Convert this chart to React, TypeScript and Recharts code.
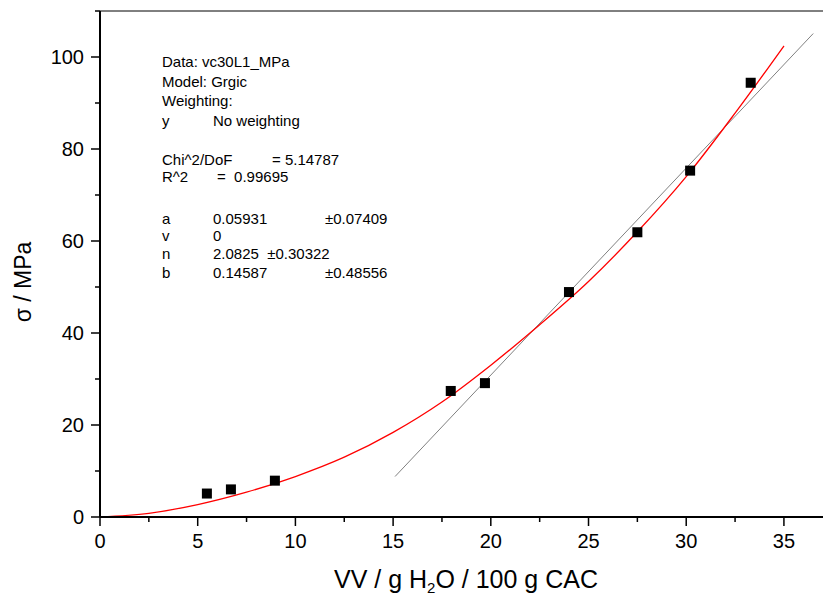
import { ComposedChart, Line, Scatter, XAxis, YAxis, ReferenceLine } from 'recharts';

// measured points
const vv = [5.47, 6.7, 8.95, 17.95, 19.7, 24.0, 27.5, 30.2, 33.3];
const sigma = [5.1, 6.0, 7.9, 27.4, 29.1, 48.9, 61.9, 75.3, 94.4];

// Grgic fit curve
const fitX = [0, 2.5, 5, 7.5, 10, 12.5, 15, 17.5, 20, 22.5, 25, 27.5, 30, 32.5, 35];
const fitY = [0, 0.8, 2.7, 5.4, 8.8, 13.0, 18.4, 25.0, 33.0, 41.8, 51.2, 62.0, 74.0, 87.8, 102.4];

// linear reference line
const linX = [15.1, 36.5];
const linY = [8.8, 105.1];

const xTicks = [0, 2.5, 5, 7.5, 10, 12.5, 15, 17.5, 20, 22.5, 25, 27.5, 30, 32.5, 35];
const yTicks = [0, 10, 20, 30, 40, 50, 60, 70, 80, 90, 100, 110];

const fitLines = [
  { text: 'Data: vc30L1_MPa', x: 162, y: 66.5 },
  { text: 'Model: Grgic', x: 162, y: 86.5 },
  { text: 'Weighting:', x: 162, y: 106 },
  { text: 'y', x: 162, y: 125.5 },
  { text: 'No weighting', x: 213, y: 125.5 },
  { text: 'Chi^2/DoF', x: 162, y: 164.5 },
  { text: '= 5.14787', x: 272, y: 164.5 },
  { text: 'R^2', x: 162, y: 181.5 },
  { text: '=  0.99695', x: 217, y: 181.5 },
  { text: 'a', x: 162, y: 223.5 },
  { text: '0.05931', x: 213, y: 223.5 },
  { text: '±0.07409', x: 325, y: 223.5 },
  { text: 'v', x: 162, y: 241 },
  { text: '0', x: 213, y: 241 },
  { text: 'n', x: 162, y: 259 },
  { text: '2.0825  ±0.30322', x: 213, y: 259 },
  { text: 'b', x: 162, y: 277.5 },
  { text: '0.14587', x: 213, y: 277.5 },
  { text: '±0.48556', x: 325, y: 277.5 },
];

const points = vv.map((x, i) => ({ x, y: sigma[i] }));
const fit = fitX.map((x, i) => ({ x, y: fitY[i] }));
const lin = linX.map((x, i) => ({ x, y: linY[i] }));

const FONT = '"Liberation Sans", Arial, sans-serif';

const XTick = ({ x, y, payload }: any) => {
  const major = payload.value % 5 === 0;
  return (
    <g>
      <line x1={x} x2={x} y1={y} y2={y + (major ? 9 : 5)} stroke="#000" strokeWidth={1.5} />
      {major && (
        <text x={x} y={y + 31} textAnchor="middle" fontSize={20} fontFamily={FONT} fill="#000">
          {payload.value}
        </text>
      )}
    </g>
  );
};

const YTick = ({ x, y, payload }: any) => {
  const major = payload.value % 20 === 0;
  return (
    <g>
      <line x1={x} x2={x - (major ? 9 : 5)} y1={y} y2={y} stroke="#000" strokeWidth={1.5} />
      {major && (
        <text x={x - 16} y={y + 7} textAnchor="end" fontSize={20} fontFamily={FONT} fill="#000">
          {payload.value}
        </text>
      )}
    </g>
  );
};

const Square = ({ cx, cy }: any) => <rect x={cx - 5} y={cy - 5} width={10} height={10} fill="#000" />;

export default function App() {
  return (
    <div style={{ position: 'absolute', left: 0, top: 0, width: 823, height: 596, background: '#fff' }}>
      <ComposedChart width={823} height={596} margin={{ top: 11, right: 0, left: 0, bottom: 0 }}>
        <XAxis
          type="number"
          dataKey="x"
          domain={[0, 37]}
          ticks={xTicks}
          interval={0}
          allowDataOverflow
          height={79}
          tickSize={0}
          tickMargin={0}
          tickLine={false}
          tick={<XTick />}
          axisLine={{ stroke: '#000', strokeWidth: 2 }}
        />
        <YAxis
          type="number"
          dataKey="y"
          domain={[0, 110]}
          ticks={yTicks}
          interval={0}
          allowDataOverflow
          width={100}
          tickSize={0}
          tickMargin={0}
          tickLine={false}
          tick={<YTick />}
          axisLine={{ stroke: '#000', strokeWidth: 2 }}
        />
        <ReferenceLine y={110} stroke="#000" strokeWidth={1} />
        <Line data={lin} dataKey="y" type="linear" stroke="#808080" strokeWidth={1} dot={false} isAnimationActive={false} />
        <Line data={fit} dataKey="y" type="monotone" stroke="#ff0000" strokeWidth={1.3} dot={false} isAnimationActive={false} />
        <Scatter data={points} dataKey="y" shape={<Square />} isAnimationActive={false} />
      </ComposedChart>
      <svg width={823} height={596} style={{ position: 'absolute', left: 0, top: 0, pointerEvents: 'none' }}>
        {fitLines.map((t, i) => (
          <text key={i} x={t.x} y={t.y} fontSize={15} fontFamily={FONT} fill="#000" style={{ whiteSpace: 'pre' }}>
            {t.text}
          </text>
        ))}
        <text x={466} y={588} textAnchor="middle" fontSize={25} fontFamily={FONT} fill="#000">
          VV / g H<tspan fontSize={15} dy={5}>2</tspan>
          <tspan dy={-5}>O / 100 g CAC</tspan>
        </text>
        <text transform="translate(31,282) rotate(-90)" textAnchor="middle" fontSize={23} fontFamily={FONT} fill="#000">
          σ / MPa
        </text>
      </svg>
    </div>
  );
}
